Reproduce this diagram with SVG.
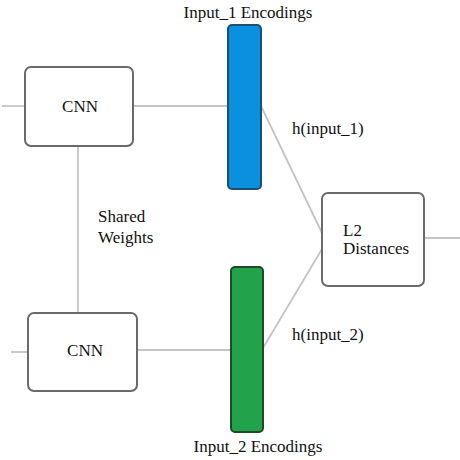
<svg xmlns="http://www.w3.org/2000/svg" width="460" height="460" viewBox="0 0 460 460" font-family="'Liberation Serif', 'Times New Roman', Tinos, 'DejaVu Serif', serif" font-size="17">
<style>
.box{fill:#fff;stroke:#6a6a6a;stroke-width:2}
.ln{stroke:#c4c4c4;stroke-width:1.8;fill:none}
text{fill:#111}
</style>
<rect width="460" height="460" fill="#fff"/>
<g id="connectors">
<line class="ln" x1="2" y1="106" x2="25" y2="106"/>
<line class="ln" x1="11" y1="352" x2="28" y2="352"/>
<line class="ln" x1="133" y1="106" x2="228" y2="106"/>
<line class="ln" x1="137" y1="350" x2="231" y2="350"/>
<line class="ln" x1="78" y1="146" x2="78" y2="313"/>
<line class="ln" x1="261" y1="106" x2="322" y2="233"/>
<line class="ln" x1="263" y1="348" x2="322" y2="249"/>
<line class="ln" x1="424" y1="238" x2="460" y2="238"/>
</g>
<g id="cnn1">
<rect class="box" x="25" y="67" width="108" height="79" rx="6"/>
<text x="80" y="112" text-anchor="middle">CNN</text>
</g>
<g id="cnn2">
<rect class="box" x="28" y="313" width="109" height="78" rx="6"/>
<text x="85" y="356" text-anchor="middle">CNN</text>
</g>
<g id="enc1">
<rect x="228" y="25" width="33" height="164" rx="4" fill="#0b8fdf" stroke="#1d4e70" stroke-width="2"/>
<text x="248" y="18" text-anchor="middle">Input_1 Encodings</text>
</g>
<g id="enc2">
<rect x="231" y="267" width="32" height="165" rx="4" fill="#22a24a" stroke="#1f4a2a" stroke-width="2"/>
<text x="258" y="452" text-anchor="middle">Input_2 Encodings</text>
</g>
<g id="l2">
<rect class="box" x="322" y="193" width="102" height="93" rx="6"/>
<text x="343" y="236">L2</text>
<text x="343" y="254">Distances</text>
</g>
<g id="labels">
<text x="98" y="222">Shared</text>
<text x="98" y="243">Weights</text>
<text x="292" y="134">h(input_1)</text>
<text x="292" y="340">h(input_2)</text>
</g>
</svg>
